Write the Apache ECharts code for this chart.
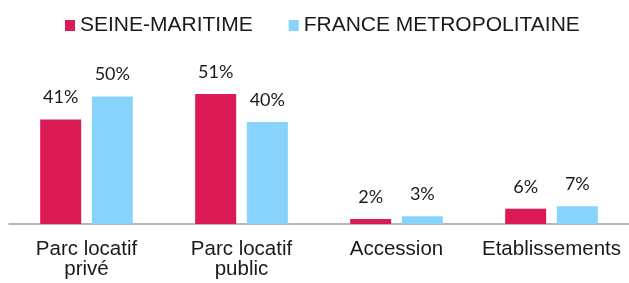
<!DOCTYPE html>
<html>
<head>
<meta charset="utf-8">
<script src="https://cdn.jsdelivr.net/npm/echarts@6/dist/echarts.min.js"></script>
<style>
  html, body { margin: 0; padding: 0; background: #fff; }
  #chart { width: 629px; height: 283px; }
</style>
</head>
<body>
<div id="chart"></div>
<script>
// categories / series
var categories = ['Parc locatif\nprivé', 'Parc locatif\npublic', 'Accession', 'Etablissements'];
var seineMaritime = [41, 51, 2, 6];
var franceMetro = [50, 40, 3, 7];
var seriesNames = ['SEINE-MARITIME', 'FRANCE METROPOLITAINE'];

var chart = echarts.init(document.getElementById('chart'));

var valueLabel = {
  show: true,
  position: 'top',
  distance: 13,
  formatter: '{c}%',
  fontFamily: 'Lato',
  fontSize: 18,
  color: '#1a1a1a'
};

var option = {
  animation: false,
  legend: {
    top: 10,
    left: 60,
    itemWidth: 10,
    itemHeight: 11,
    itemGap: 36,
    icon: 'rect',
    textStyle: { fontFamily: 'Liberation Sans', fontSize: 21, color: '#1a1a1a' },
    data: seriesNames
  },
  grid: { left: 9, width: 622, top: 60.8, bottom: 59, containLabel: false },
  xAxis: {
    type: 'category',
    data: categories,
    axisLine: { lineStyle: { color: '#a0a0a0', width: 1.5 } },
    axisTick: { show: false },
    axisLabel: {
      interval: 0,
      margin: 15,
      fontFamily: 'Liberation Sans',
      fontSize: 20.5,
      lineHeight: 20,
      color: '#1a1a1a'
    }
  },
  yAxis: {
    type: 'value',
    min: 0,
    max: 64,
    show: false,
    splitLine: { show: false }
  },
  series: [
    {
      name: seriesNames[0],
      type: 'bar',
      data: seineMaritime,
      barWidth: 41,
      barGap: '26%',
      itemStyle: { color: '#db1a56' },
      label: valueLabel
    },
    {
      name: seriesNames[1],
      type: 'bar',
      data: franceMetro,
      barWidth: 41,
      barGap: '26%',
      itemStyle: { color: '#87d3fb' },
      label: valueLabel
    }
  ]
};

chart.setOption(option);
</script>
</body>
</html>
